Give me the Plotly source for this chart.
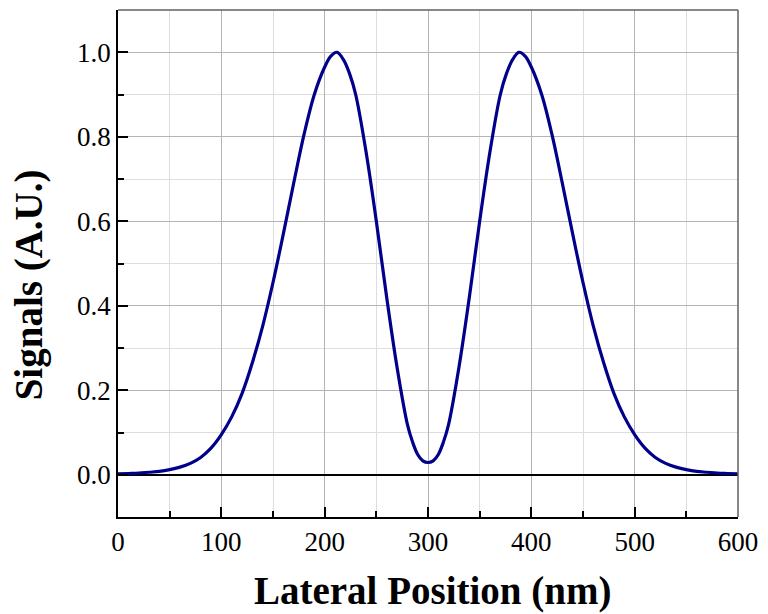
import plotly.graph_objects as go

# Lateral position (nm) and normalised signal
position_nm = [0, 10, 20, 30, 40, 50, 60, 70, 80, 90,
               100, 110, 120, 130, 140, 150, 160, 170, 180, 190,
               200, 206, 212, 218, 224, 230, 240, 250, 260, 270,
               280, 285, 290, 295, 300, 305, 310, 315, 320, 330,
               340, 350, 360, 370, 376, 382, 388, 394, 400, 410,
               420, 430, 440, 450, 460, 470, 480, 490, 500, 510,
               520, 530, 540, 550, 560, 570, 580, 590, 600]
signal = [0.002, 0.003, 0.004, 0.006, 0.008, 0.012, 0.018, 0.027, 0.041, 0.063,
          0.095, 0.137, 0.192, 0.265, 0.352, 0.455, 0.570, 0.690, 0.805, 0.900,
          0.965, 0.991, 1.000, 0.983, 0.950, 0.900, 0.765, 0.600, 0.420, 0.255,
          0.120, 0.078, 0.048, 0.033, 0.029, 0.033, 0.048, 0.078, 0.120, 0.255,
          0.420, 0.600, 0.765, 0.900, 0.950, 0.983, 1.000, 0.991, 0.965, 0.900,
          0.805, 0.690, 0.570, 0.455, 0.352, 0.265, 0.192, 0.137, 0.095, 0.063,
          0.041, 0.027, 0.018, 0.012, 0.008, 0.006, 0.004, 0.003, 0.002]

x_ticks = [0, 100, 200, 300, 400, 500, 600]
y_ticks = [0.0, 0.2, 0.4, 0.6, 0.8, 1.0]
x_title = "Lateral Position (nm)"
y_title = "Signals (A.U.)"

FONT = "Liberation Serif"

fig = go.Figure()
fig.add_trace(go.Scatter(
    x=position_nm, y=signal, mode="lines",
    line=dict(color="#00008B", width=3.2, shape="spline", smoothing=1.0),
    hoverinfo="skip", showlegend=False,
))

axis_common = dict(
    showline=True, linecolor="black", linewidth=1.5,
    ticks="inside", ticklen=10, tickwidth=1.5, tickcolor="black",
    showgrid=True, gridcolor="#b4b4b4", gridwidth=1,
    tickfont=dict(family=FONT, size=27, color="black"),
    mirror=False,
)

fig.update_xaxes(
    range=[0, 600], tickvals=x_ticks, ticktext=[str(v) for v in x_ticks],
    minor=dict(dtick=50, ticks="inside", ticklen=6, tickwidth=1.5, tickcolor="black",
               showgrid=True, gridcolor="#dedede", gridwidth=1),
    zeroline=False,
    **axis_common,
)
fig.update_yaxes(
    range=[-0.1, 1.1], tickvals=y_ticks, ticktext=[f"{v:.1f}" for v in y_ticks],
    minor=dict(dtick=0.1, ticks="inside", ticklen=6, tickwidth=1.5, tickcolor="black",
               showgrid=True, gridcolor="#dedede", gridwidth=1),
    zeroline=True, zerolinecolor="black", zerolinewidth=1.5,
    **axis_common,
)

# grey frame on top / right
fig.add_shape(type="line", xref="paper", yref="paper", x0=0, x1=1, y0=1, y1=1,
              line=dict(color="#606060", width=1.5))
fig.add_shape(type="line", xref="paper", yref="paper", x0=1, x1=1, y0=0, y1=1,
              line=dict(color="#606060", width=1.5))

# axis titles
fig.add_annotation(text=f"<b>{x_title}</b>", xref="paper", yref="paper",
                   x=0.507, y=-0.146, xanchor="center", yanchor="middle",
                   showarrow=False, font=dict(family=FONT, size=39, color="black"))
fig.add_annotation(text=f"<b>{y_title}</b>", xref="paper", yref="paper",
                   x=-0.143, y=0.4576, xanchor="center", yanchor="middle",
                   textangle=-90, showarrow=False,
                   font=dict(family=FONT, size=39, color="black"))

fig.update_layout(
    width=768, height=614,
    margin=dict(l=118, r=22, t=10, b=97),
    plot_bgcolor="white", paper_bgcolor="white",
)

fig.write_html("out.html")
